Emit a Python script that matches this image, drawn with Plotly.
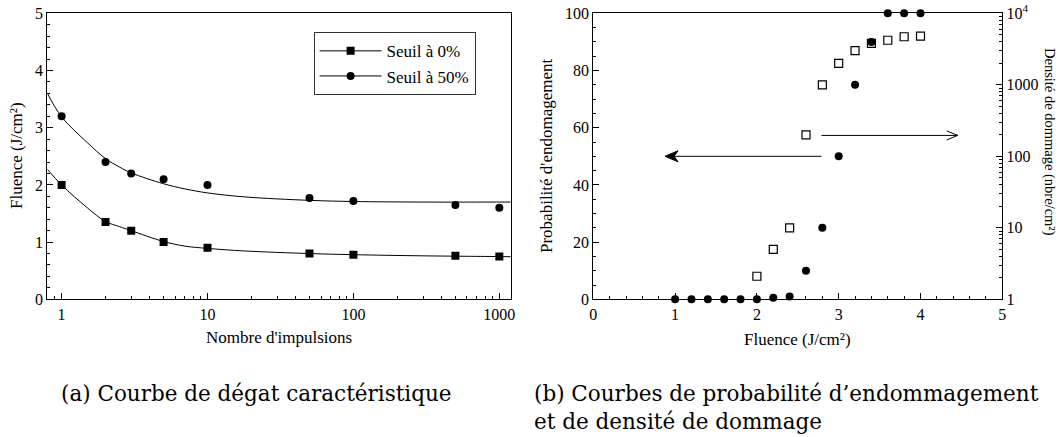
import plotly.graph_objects as go

# ---------------- data ----------------
# (a) damage curve
pulses = [1, 2, 3, 5, 10, 50, 100, 500, 1000]
seuil_0 = [2.0, 1.35, 1.2, 1.0, 0.9, 0.8, 0.78, 0.76, 0.75]
seuil_50 = [3.2, 2.4, 2.2, 2.1, 2.0, 1.77, 1.72, 1.65, 1.6]
# fitted curves
fit_pulses = [0.8, 1, 1.5, 2, 2.5, 3, 5, 7, 10, 18, 50, 100, 300, 1000, 1200]
fit_0 = [2.27, 2.0, 1.60, 1.36, 1.27, 1.2, 1.01, 0.93, 0.89, 0.845, 0.80, 0.78, 0.76, 0.747, 0.745]
fit_50 = [3.60, 3.19, 2.74, 2.46, 2.31, 2.21, 2.02, 1.93, 1.86, 1.79, 1.73, 1.71, 1.70, 1.70, 1.70]

# (b) probability & density
fluence_p = [1.0, 1.2, 1.4, 1.6, 1.8, 2.0, 2.2, 2.4, 2.6, 2.8, 3.0, 3.2, 3.4, 3.6, 3.8, 4.0]
probabilite = [0, 0, 0, 0, 0, 0, 0.5, 1, 10, 25, 50, 75, 90, 100, 100, 100]
fluence_d = [2.0, 2.2, 2.4, 2.6, 2.8, 3.0, 3.2, 3.4, 3.6, 3.8, 4.0]
densite = [2.1, 5, 10, 200, 1000, 2000, 3000, 3800, 4200, 4700, 4800]

left_ticks = [0, 1, 2, 3, 4, 5]
log_ticks_a = [1, 10, 100, 1000]
right_ticks = [1, 10, 100, 1000, 10000]
right_ticktext = ["1", "10", "100", "1000", "10<sup>4</sup>"]

# arrows (data coords of panel b: start x, tip x, y on left axis)
arrow_left = dict(x0=2.79, x1=0.877, y=50)
arrow_right = dict(x0=2.79, x1=4.455, y=57.3)

# ---------------- layout helpers ----------------
W, H = 1064, 437
def px(x):
    return x / W
def py(y):
    return (H - y) / H

FONT = "Liberation Serif, Times New Roman, serif"
CAP_FONT = "DejaVu Serif"
BLACK = "#000000"

minor_log = [m * 10 ** e for e in range(-1, 4) for m in range(2, 10)]
minor_log_r = [m * 10 ** e for e in range(0, 4) for m in range(2, 10)]

fig = go.Figure()

# fitted curves
for fy in (fit_0, fit_50):
    fig.add_trace(go.Scatter(x=fit_pulses, y=fy, mode="lines",
                             line=dict(color=BLACK, width=1, shape="spline", smoothing=1.0),
                             showlegend=False, xaxis="x", yaxis="y", hoverinfo="skip"))
# measured points
fig.add_trace(go.Scatter(x=pulses, y=seuil_0, mode="markers", marker=dict(symbol="square", size=8, color=BLACK),
                         showlegend=False, xaxis="x", yaxis="y"))
fig.add_trace(go.Scatter(x=pulses, y=seuil_50, mode="markers", marker=dict(symbol="circle", size=8, color=BLACK),
                         showlegend=False, xaxis="x", yaxis="y"))
# legend entries
fig.add_trace(go.Scatter(x=[None], y=[None], mode="lines+markers", name="Seuil à 0%",
                         line=dict(color=BLACK, width=1), marker=dict(symbol="square", size=8, color=BLACK),
                         xaxis="x", yaxis="y"))
fig.add_trace(go.Scatter(x=[None], y=[None], mode="lines+markers", name="Seuil à 50%",
                         line=dict(color=BLACK, width=1), marker=dict(symbol="circle", size=8, color=BLACK),
                         xaxis="x", yaxis="y"))

# panel b
fig.add_trace(go.Scatter(x=fluence_p, y=probabilite, mode="markers",
                         marker=dict(symbol="circle", size=8, color=BLACK),
                         showlegend=False, xaxis="x2", yaxis="y2", cliponaxis=False))
fig.add_trace(go.Scatter(x=fluence_d, y=densite, mode="markers",
                         marker=dict(symbol="square-open", size=8, color=BLACK, line=dict(width=1.2)),
                         showlegend=False, xaxis="x2", yaxis="y3", cliponaxis=False))

axis_common = dict(showline=True, linecolor=BLACK, linewidth=1.2, mirror=True, ticks="inside",
                   ticklen=6, tickwidth=1, tickcolor=BLACK, showgrid=False, zeroline=False,
                   automargin=False,
                   tickfont=dict(family=FONT, size=16, color=BLACK))
minor_common = dict(ticks="inside", ticklen=3, tickwidth=1, tickcolor=BLACK, showgrid=False)

fig.update_layout(
    template="none",
    width=W, height=H,
    margin=dict(l=0, r=0, t=0, b=0, pad=0),
    paper_bgcolor="white", plot_bgcolor="white",
    font=dict(family=FONT, size=16, color=BLACK),
    xaxis=dict(axis_common, type="log", domain=[px(47.3), px(510.7)], range=[-0.098, 3.078],
               tickmode="array", tickvals=log_ticks_a, ticktext=[str(v) for v in log_ticks_a], anchor="y",
               minor=dict(minor_common, tickmode="array", tickvals=minor_log)),
    yaxis=dict(axis_common, domain=[py(299.3), py(13.3)], range=[0, 5], tickmode="array",
               tickvals=left_ticks, anchor="x",
               minor=dict(minor_common, dtick=0.2)),
    xaxis2=dict(axis_common, domain=[px(593.3), px(1002.3)], range=[0, 5], dtick=1, tick0=0, anchor="y2",
                minor=dict(minor_common, dtick=0.2)),
    yaxis2=dict(axis_common, domain=[py(299.3), py(13.3)], range=[0, 100], dtick=20, tick0=0, anchor="x2",
                mirror=False, minor=dict(minor_common, dtick=5)),
    yaxis3=dict(axis_common, type="log", range=[0, 4], overlaying="y2", side="right", anchor="x2",
                mirror=False, tickmode="array", tickvals=right_ticks, ticktext=right_ticktext,
                minor=dict(minor_common, tickmode="array", tickvals=minor_log_r)),
    legend=dict(x=px(313.6), y=py(32.3), xanchor="left", yanchor="top", bordercolor="#333333", borderwidth=1,
                bgcolor="white", font=dict(family=FONT, size=17, color=BLACK), itemwidth=62,
                tracegroupgap=0),
    showlegend=True,
)

ann = []
def text(x, y, s, size=17, angle=0, family=FONT, xanchor="center"):
    ann.append(dict(x=px(x), y=py(y), xref="paper", yref="paper", text=s, showarrow=False,
                    textangle=angle, font=dict(family=family, size=size, color=BLACK),
                    xanchor=xanchor, yanchor="middle", align="left"))

text(17, 156, "Fluence (J/cm²)", angle=-90)
text(279, 337, "Nombre d'impulsions")
text(547, 156, "Probabilité d'endomagement", angle=-90)
text(797, 339, "Fluence (J/cm²)")
text(1049, 142, "Densité de dommage (nbre/cm²)", size=14.5, angle=90)
text(59, 393, "(a) Courbe de dégat caractéristique", size=21.5, family=CAP_FONT, xanchor="left")
text(532, 393, "(b) Courbes de probabilité d’endommagement", size=21.5, family=CAP_FONT, xanchor="left")
text(532, 421, "et de densité de dommage", size=21.5, family=CAP_FONT, xanchor="left")
fig.update_layout(annotations=ann)

# arrows drawn as shapes
shapes = []
for a in (arrow_left, arrow_right):
    shapes.append(dict(type="line", xref="x2", yref="y2", x0=a["x0"], x1=a["x1"], y0=a["y"], y1=a["y"],
                       line=dict(color=BLACK, width=1)))
# filled barbed head pointing left
shapes.append(dict(type="path", xref="x2", yref="y2", xsizemode="pixel", ysizemode="pixel",
                   xanchor=arrow_left["x1"], yanchor=arrow_left["y"],
                   path="M0,0 L13,5.5 L9,0 L13,-5.5 Z", fillcolor=BLACK, line=dict(color=BLACK, width=1)))
# open chevron head pointing right
shapes.append(dict(type="path", xref="x2", yref="y2", xsizemode="pixel", ysizemode="pixel",
                   xanchor=arrow_right["x1"], yanchor=arrow_right["y"],
                   path="M-11,4.5 L0,0 L-11,-4.5", line=dict(color=BLACK, width=1)))
fig.update_layout(shapes=shapes)

fig.write_html("out.html", config={"displayModeBar": False},
               post_script="document.body.style.margin='0px';document.body.style.overflow='hidden';")
